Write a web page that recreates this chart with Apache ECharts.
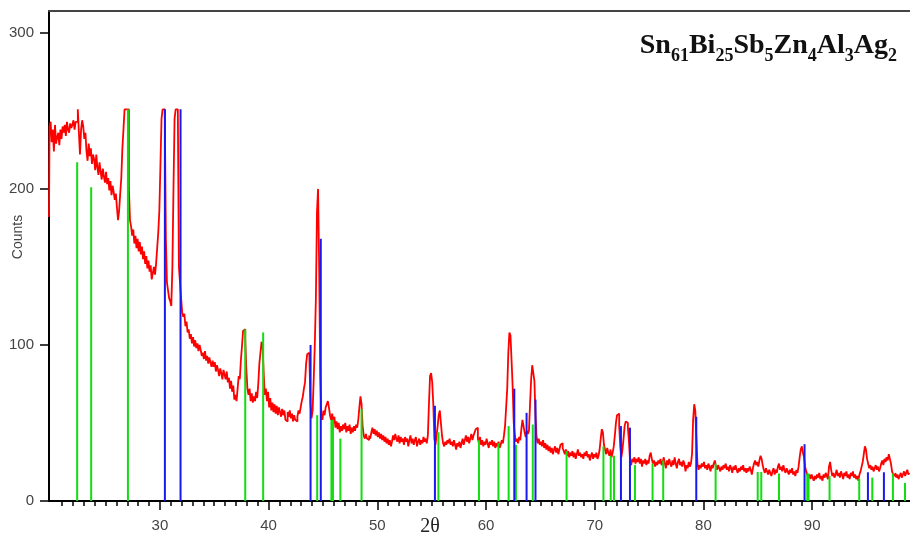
<!DOCTYPE html>
<html><head><meta charset="utf-8">
<script src="https://cdn.jsdelivr.net/npm/echarts@6/dist/echarts.min.js"></script>
<style>html,body{margin:0;padding:0;background:#fff}#c{width:910px;height:536px}</style>
</head><body><div id="c"></div>
<script>
// XRD scan: 2θ from scanStart with scanStep spacing
const scanStart = 19.8;
const scanStep = 0.1;
const counts = [
  182, 240,
  243, 230, 238, 224, 241, 229, 233, 236, 228, 238, // 20
  232, 240, 236, 241, 234, 243, 238, 236, 242, 239, // 21
  241, 244, 238, 243, 243, 251, 236, 222, 238, 244, // 22
  240, 232, 236, 224, 218, 229, 221, 226, 216, 222, // 23
  219, 212, 222, 214, 209, 217, 211, 206, 213, 208, // 24
  204, 211, 203, 207, 199, 205, 196, 202, 198, 193, // 25
  197, 188, 180, 186, 197, 207, 226, 238, 251, 251, // 26
  251, 251, 200, 180, 176, 170, 174, 165, 170, 162, // 27
  168, 160, 166, 158, 163, 155, 160, 152, 157, 149, // 28
  154, 147, 151, 142, 146, 150, 145, 152, 162, 172, // 29
  186, 215, 245, 251, 251, 251, 168, 140, 135, 130, // 30
  128, 125, 150, 200, 245, 251, 251, 251, 150, 140, // 31
  130, 121, 118, 120, 112, 115, 108, 110, 104, 107, // 32
  101, 105, 99, 103, 98, 101, 96, 100, 97, 93,      // 33
  95, 91, 96, 90, 93, 88, 92, 89, 86, 90,           // 34
  86, 89, 83, 87, 84, 80, 85, 82, 78, 84,           // 35
  81, 78, 83, 76, 79, 72, 77, 70, 74, 65,           // 36
  68, 64, 72, 80, 78, 90, 99, 109, 110, 104,        // 37
  85, 72, 68, 72, 64, 69, 63, 67, 64, 70,           // 38
  66, 75, 88, 95, 102, 99, 82, 68, 72, 64,          // 39
  70, 60, 66, 58, 63, 57, 62, 56, 61, 55,           // 40
  60, 57, 54, 59, 55, 58, 52, 51, 57, 54,           // 41
  58, 53, 56, 51, 55, 52, 51, 54, 58, 56,           // 42
  60, 64, 67, 72, 76, 88, 94, 95, 93, 62,           // 43
  53, 58, 78, 100, 130, 185, 200, 150, 80, 55,      // 44
  52, 58, 55, 60, 62, 64, 60, 55, 52, 56,           // 45
  50, 54, 47, 51, 46, 50, 44, 48, 45, 49,           // 46
  46, 50, 44, 48, 45, 49, 43, 47, 44, 48,           // 47
  45, 49, 47, 52, 60, 67, 62, 48, 42, 40,           // 48
  43, 40, 39, 42, 40, 44, 47, 43, 46, 42,           // 49
  45, 41, 44, 40, 43, 39, 42, 38, 41, 37,           // 50
  40, 36, 39, 35, 38, 42, 39, 43, 40, 38,           // 51
  42, 37, 41, 38, 40, 36, 41, 38, 40, 35,           // 52
  39, 42, 37, 40, 36, 39, 41, 35, 38, 40,           // 53
  36, 39, 37, 41, 38, 40, 37, 42, 62, 80,           // 54
  82, 76, 62, 40, 36, 42, 48, 55, 58, 50,           // 55
  42, 37, 35, 38, 36, 39, 37, 40, 36, 38,           // 56
  35, 39, 36, 33, 37, 35, 38, 34, 37, 40,           // 57
  36, 39, 42, 38, 41, 37, 40, 43, 39, 42,           // 58
  44, 46, 47, 40, 37, 41, 36, 39, 35, 38,           // 59
  36, 40, 37, 34, 38, 36, 39, 35, 38, 34,           // 60
  37, 35, 38, 34, 36, 39, 37, 42, 48, 60,           // 61
  72, 95, 108, 106, 90, 73, 50, 42, 38, 40,         // 62
  37, 41, 39, 46, 52, 48, 44, 41, 45, 43,           // 63
  45, 62, 78, 87, 82, 77, 55, 41, 37, 40,           // 64
  36, 38, 35, 39, 34, 37, 33, 36, 32, 35,           // 65
  31, 34, 30, 33, 35, 31, 34, 30, 33, 36,           // 66
  37, 34, 32, 30, 33, 29, 32, 28, 31, 29,           // 67
  32, 28, 31, 27, 30, 33, 29, 31, 28, 30,           // 68
  27, 31, 29, 32, 28, 30, 26, 29, 31, 27,           // 69
  30, 28, 31, 27, 29, 33, 40, 46, 44, 36,           // 70
  33, 30, 34, 31, 29, 33, 28, 31, 35, 42,           // 71
  50, 55, 56, 48, 35, 28, 33, 40, 48, 51,           // 72
  50, 47, 38, 26, 23, 27, 25, 28, 24, 27,           // 73
  25, 28, 24, 27, 22, 26, 24, 27, 23, 26,           // 74
  24, 29, 31, 27, 24, 26, 22, 25, 23, 26,           // 75
  24, 27, 23, 25, 28, 24, 21, 26, 23, 27,           // 76
  24, 22, 26, 23, 28, 24, 21, 25, 27, 23,           // 77
  25, 22, 26, 24, 19, 23, 21, 25, 22, 24,           // 78
  30, 52, 62, 58, 40, 24, 20, 23, 21, 24,           // 79
  22, 25, 21, 23, 20, 24, 22, 19, 23, 21,           // 80
  24, 26, 22, 20, 23, 21, 19, 22, 20, 23,           // 81
  21, 24, 20, 22, 19, 23, 21, 18, 22, 20,           // 82
  23, 20, 18, 21, 19, 22, 20, 23, 19, 21,           // 83
  18, 21, 19, 22, 20, 17, 21, 24, 26, 23,           // 84
  25, 22, 26, 29, 27, 23, 20, 18, 21, 19,           // 85
  17, 20, 18, 16, 19, 21, 17, 20, 18, 22,           // 86
  24, 20, 22, 19, 23, 20, 18, 21, 19, 17,           // 87
  20, 18, 21, 17, 19, 16, 20, 18, 22, 28,           // 88
  33, 35, 31, 28, 22, 19, 17, 15, 17, 14,           // 89
  17, 15, 13, 16, 14, 17, 15, 18, 14, 16,           // 90
  13, 17, 15, 18, 16, 14, 22, 25, 20, 16,           // 91
  18, 15, 17, 20, 16, 18, 15, 19, 17, 14,           // 92
  18, 16, 19, 15, 17, 14, 18, 16, 19, 15,           // 93
  17, 14, 16, 13, 17, 19, 22, 25, 30, 35,           // 94
  33, 27, 24, 21, 23, 20, 22, 19, 21, 23,           // 95
  20, 22, 19, 21, 24, 26, 23, 27, 25, 28,           // 96
  26, 30, 27, 24, 19, 17, 16, 18, 15, 17,           // 97
  14, 16, 18, 15, 17, 19, 16, 18, 20, 17,           // 98
  18                                                // 99
];

// reference pattern 1 (green)
const greenPos = [22.39, 23.68, 27.06, 37.85, 39.5, 44.47, 45.78, 45.92, 46.6, 48.55,
  55.62, 59.35, 61.14, 62.08, 62.75, 64.3, 67.41, 70.8, 71.47, 71.77,
  73.7, 75.32, 76.3, 81.12, 84.99, 85.32, 86.95, 89.55, 89.67, 91.6,
  94.33, 95.53, 97.43, 98.54];
const greenHeight = [217, 201, 251, 110, 108, 55, 52, 52, 40, 59,
  44, 39, 37, 48, 36, 49, 32, 35, 29, 29,
  23, 24, 26, 24, 18.6, 18.6, 17.6, 17.6, 17.6, 16,
  14.4, 15, 17.6, 11.5];

// reference pattern 2 (blue)
const bluePos = [30.46, 31.9, 43.86, 44.8, 55.3, 62.6, 63.73, 64.55, 72.41, 73.24, 79.34, 89.3, 95.13, 96.6];
const blueHeight = [251, 251, 100, 168, 61, 72, 56.5, 65, 48, 47, 54, 36.4, 18.4, 18.4];

const xMajorTicks = [30, 40, 50, 60, 70, 80, 90];
const xMinorTicks = [21,22,23,24,25,26,27,28,29,31,32,33,34,35,36,37,38,39,41,42,43,44,45,46,47,48,49,
  51,52,53,54,55,56,57,58,59,61,62,63,64,65,66,67,68,69,71,72,73,74,75,76,77,78,79,
  81,82,83,84,85,86,87,88,89,91,92,93,94,95,96,97,98];
const yTicks = [0, 100, 200, 300];

const X_MIN = 19.8, X_MAX = 99, Y_MAX = 314;

const scanData = counts.map((c, i) => [Math.round((scanStart + i * scanStep) * 10) / 10, c]);
const greenData = greenPos.map((p, i) => [p, greenHeight[i]]);
const blueData = bluePos.map((p, i) => [p, blueHeight[i]]);

function stickRenderer(color) {
  return function (params, api) {
    const p0 = api.coord([api.value(0), 0]);
    const p1 = api.coord([api.value(0), api.value(1)]);
    return {
      type: 'line',
      shape: { x1: p0[0], y1: p0[1], x2: p1[0], y2: p1[1] },
      style: { stroke: color, lineWidth: 2 }
    };
  };
}

const chart = echarts.init(document.getElementById('c'), null, { renderer: 'canvas' });
chart.setOption({
  animation: false,
  backgroundColor: '#fff',
  grid: { left: 49, right: 0, top: 11, bottom: 35 },
  xAxis: [
    {
      type: 'value', min: X_MIN, max: X_MAX, position: 'bottom',
      axisLine: { onZero: false, lineStyle: { color: '#000', width: 2 } },
      axisTick: { show: true, customValues: xMajorTicks, length: 9, lineStyle: { color: '#000', width: 1.5 } },
      axisLabel: { customValues: xMajorTicks, fontSize: 15, color: '#444', margin: 17, fontFamily: 'Liberation Sans' },
      splitLine: { show: false }
    },
    {
      type: 'value', min: X_MIN, max: X_MAX, position: 'bottom',
      axisLine: { show: false },
      axisTick: { show: true, customValues: xMinorTicks, length: 5, lineStyle: { color: '#000', width: 1.5 } },
      axisLabel: { show: false },
      splitLine: { show: false }
    },
    {
      type: 'value', min: X_MIN, max: X_MAX, position: 'top',
      axisLine: { show: true, onZero: false, lineStyle: { color: '#444', width: 2 } },
      axisTick: { show: false },
      axisLabel: { show: false },
      splitLine: { show: false }
    }
  ],
  yAxis: {
    type: 'value', min: 0, max: Y_MAX,
    axisLine: { show: true, onZero: false, lineStyle: { color: '#000', width: 2 } },
    axisTick: { show: true, customValues: yTicks, length: 9, lineStyle: { color: '#000', width: 1.5 } },
    axisLabel: { customValues: yTicks, fontSize: 15, color: '#444', margin: 15, fontFamily: 'Liberation Sans' },
    splitLine: { show: false }
  },
  series: [
    {
      type: 'line', data: scanData, showSymbol: false, symbol: 'none', step: 'middle',
      lineStyle: { color: '#ff0000', width: 1.8 }, itemStyle: { color: '#ff0000' },
      z: 2, clip: true
    },
    {
      type: 'custom', data: greenData, renderItem: stickRenderer('#11dd11'),
      encode: { x: 0, y: 1 }, z: 3, clip: true
    },
    {
      type: 'custom', data: blueData, renderItem: stickRenderer('#1818f0'),
      encode: { x: 0, y: 1 }, z: 4, clip: true
    }
  ],
  graphic: [
    {
      type: 'text', x: 18, y: 237, rotation: Math.PI / 2,
      style: { text: 'Counts', fontSize: 14, fontFamily: 'Liberation Sans', fill: '#444', align: 'center', verticalAlign: 'middle' }
    },
    {
      type: 'text', x: 430, y: 527,
      style: { text: '2θ', fontSize: 20, fontFamily: 'Liberation Serif', fill: '#222', align: 'center', verticalAlign: 'middle' }
    },
    {
      type: 'text', right: 13, top: 32,
      style: {
        text: '{m|Sn}{s|61}{m|Bi}{s|25}{m|Sb}{s|5}{m|Zn}{s|4}{m|Al}{s|3}{m|Ag}{s|2}',
        rich: {
          m: { fontSize: 28, fontWeight: 'bold', fontFamily: 'Liberation Serif', fill: '#111', verticalAlign: 'bottom', padding: [0, 0, 5, 0] },
          s: { fontSize: 18, fontWeight: 'bold', fontFamily: 'Liberation Serif', fill: '#111', verticalAlign: 'bottom' }
        }
      }
    }
  ]
});
</script>
</body></html>
